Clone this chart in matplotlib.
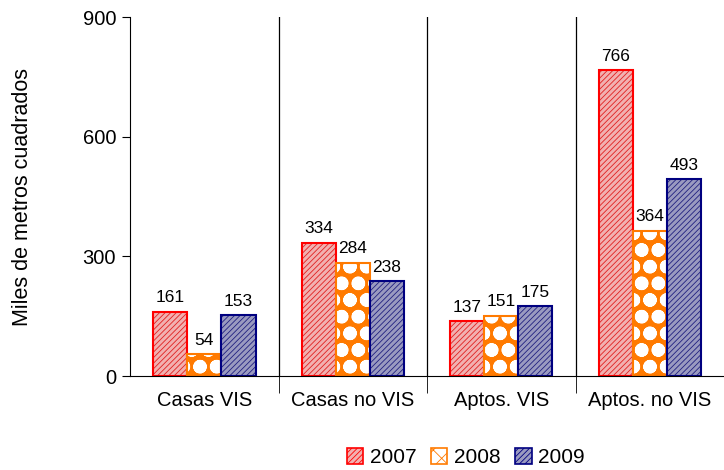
import matplotlib
matplotlib.use("Agg")
import matplotlib.pyplot as plt
import numpy as np
from matplotlib.patches import Patch

plt.rcParams['font.family'] = ['Liberation Sans', 'DejaVu Sans']

categories = ["Casas VIS", "Casas no VIS", "Aptos. VIS", "Aptos. no VIS"]
years = ["2007", "2008", "2009"]
v2007 = [161, 334, 137, 766]
v2008 = [54, 284, 151, 364]
v2009 = [153, 238, 175, 493]

fig = plt.figure(figsize=(7.24, 4.70), dpi=100)
ax = fig.add_axes([0.1796, 0.2, 0.8204, 0.7638])

x = np.arange(len(categories))
w = 0.23
# face, hatch colour, outline, hatch, hatch width
styles = [
    ("#f2b0b0", "#e02020", "#ff0000", "//////", 0.6),
    ("#ff7a00", "white", "#ff7a00", "o", 5.0),
    ("#9a9ac0", "#202080", "#000080", "//////", 0.6),
]
series = [v2007, v2008, v2009]

for i, (vals, (fc, hc, ec, hatch, hw)) in enumerate(zip(series, styles)):
    pos = x + (i - 1) * w
    plt.rcParams['hatch.linewidth'] = hw
    ax.bar(pos, vals, w, facecolor=fc, edgecolor=hc, hatch=hatch, linewidth=0)
    ax.bar(pos, vals, w, facecolor="none", edgecolor=ec, linewidth=1.5)
    for p, v in zip(pos, vals):
        ax.text(p, v + 16, str(v), ha="center", va="bottom", fontsize=12.5)

ax.set_xlim(-0.5, 3.5)
ax.set_ylim(0, 900)
ax.set_yticks([0, 300, 600, 900])
ax.tick_params(axis="y", direction="out", length=6, labelsize=14.5, pad=4)
ax.set_xticks(x)
ax.set_xticklabels(categories)
ax.tick_params(axis="x", length=0, labelsize=14.5, pad=11)
ax.set_xticks([0.5, 1.5, 2.5], minor=True)
ax.tick_params(axis="x", which="minor", direction="out", length=12)
for b in [0.5, 1.5, 2.5]:
    ax.axvline(b, color="black", linewidth=0.9)

ax.spines["top"].set_visible(False)
ax.spines["right"].set_visible(False)
ax.set_ylabel("Miles de metros cuadrados", fontsize=15.5, labelpad=36)

leg_handles = [Patch(facecolor=fc, edgecolor=ec, hatch=hatch, linewidth=1.2)
               for fc, hc, ec, hatch, hw in styles]
leg_handles[1] = Patch(facecolor="white", edgecolor="#ff7a00", hatch="xx", linewidth=1.2)
fig.legend(leg_handles, years, loc="center", bbox_to_anchor=(0.643, 0.026), ncol=3,
           frameon=False, fontsize=15, handlelength=0.8, handleheight=0.8,
           handletextpad=0.3, columnspacing=0.7)

fig.savefig("out.png", dpi=100)
